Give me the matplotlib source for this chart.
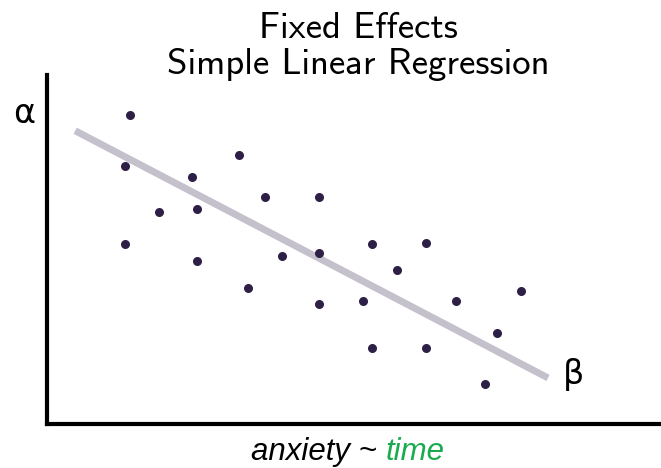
import matplotlib
matplotlib.use("Agg")
import matplotlib.pyplot as plt

# observed points (time, anxiety)
time_vals = [1.35, 1.27, 1.27, 1.82, 2.36, 2.44, 2.44, 3.13, 3.27, 3.55, 3.83, 4.43,
             4.43, 4.43, 5.29, 5.15, 5.29, 5.70, 6.17, 6.17, 6.66, 7.13, 7.33, 7.72]
anxiety_vals = [8.85, 7.39, 5.16, 6.07, 7.08, 6.16, 4.67, 7.71, 3.90, 6.50, 4.81, 6.50,
                4.90, 3.44, 5.16, 3.52, 2.18, 4.41, 5.19, 2.18, 3.52, 1.15, 2.61, 3.81]

# fitted line end points
fit_x = [0.46, 8.16]
fit_y = [8.40, 1.32]

point_color = "#2d1f45"
line_color = "#c4c0cc"
green = "#1aab4f"

fig = plt.figure(figsize=(6.61, 4.68), dpi=100)
ax = fig.add_axes([0.071, 0.094, 0.929, 0.746])

ax.plot(fit_x, fit_y, color=line_color, lw=5, solid_capstyle="butt", zorder=1)
ax.scatter(time_vals, anxiety_vals, s=30, color=point_color, zorder=2)

ax.set_xlim(0, 10)
ax.set_ylim(0, 10)
ax.set_xticks([])
ax.set_yticks([])
for side in ["top", "right"]:
    ax.spines[side].set_visible(False)
for side in ["left", "bottom"]:
    ax.spines[side].set_linewidth(3)
    ax.spines[side].set_color("black")

# greek labels
ax.text(-0.2, fit_y[0] + 0.5, "α", fontsize=24, ha="right", va="center", clip_on=False)
ax.text(fit_x[1] + 0.25, fit_y[1] + 0.1, "β", fontsize=24, ha="left", va="center")

# title
fig.text(0.542, 0.975, "Fixed Effects\nSimple Linear Regression", family="cmss10",
         fontsize=26.5, ha="center", va="top", linespacing=1.12)

# x label with coloured term
lab = fig.text(0.583, 0.017, "anxiety ~ ", family="Liberation Sans", style="italic",
               fontsize=22.5, ha="right", va="baseline")
ax.annotate("time", xy=(1, 0), xycoords=lab, family="Liberation Sans", style="italic",
            fontsize=22.5, color=green, ha="left", va="bottom")

fig.savefig("out.png", dpi=100)
